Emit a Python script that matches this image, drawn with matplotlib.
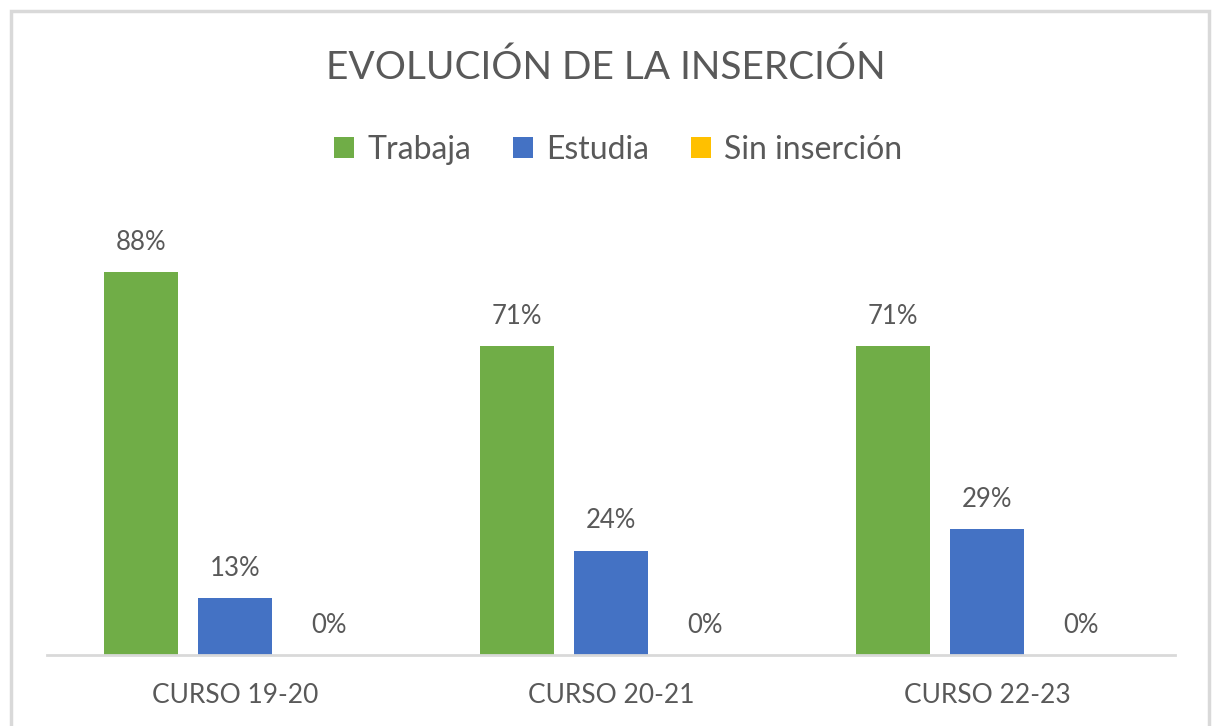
import matplotlib.pyplot as plt
from matplotlib.patches import Patch, Rectangle
import numpy as np

# data
cursos = ['CURSO 19-20', 'CURSO 20-21', 'CURSO 22-23']
series = ['Trabaja', 'Estudia', 'Sin inserción']
trabaja = [88, 71, 71]
estudia = [13, 24, 29]
sin_insercion = [0, 0, 0]

colors = ['#70AD47', '#4472C4', '#FFC000']
text_col = '#595959'
plt.rcParams['font.family'] = ['Lato', 'DejaVu Sans']

W, H = 1212, 726
fig = plt.figure(figsize=(W / 100, H / 100), dpi=100)

# light grey frame around the chart area (bottom edge falls outside the picture)
fig.patches.append(Rectangle((11 / W, -0.05), 1198 / W, (H - 11) / H + 0.05,
                             transform=fig.transFigure, fill=False,
                             edgecolor='#D9D9D9', linewidth=2.5))

ax = fig.add_axes([47 / W, (H - 655) / H, 1128 / W, 435 / H])
x = np.arange(len(cursos))
slot = 0.25
width = 0.197
for j, (name, vals) in enumerate(zip(series, [trabaja, estudia, sin_insercion])):
    pos = x + (j - 1) * slot
    ax.bar(pos, vals, width, color=colors[j], label=name)
    for px, v in zip(pos, vals):
        ax.annotate(f'{v}%', (px, v), xytext=(0, 16), textcoords='offset points',
                    ha='center', va='baseline', fontsize=18.5, color=text_col)

ax.set_xlim(-0.5, 2.5)
ax.set_ylim(0, 100)
ax.set_yticks([])
ax.set_xticks(x)
ax.set_xticklabels(cursos, fontsize=19, color=text_col)
ax.tick_params(axis='x', length=0, pad=20)
for s in ['top', 'right', 'left']:
    ax.spines[s].set_visible(False)
ax.spines['bottom'].set_color('#D9D9D9')
ax.spines['bottom'].set_linewidth(2)

fig.text(0.5, 1 - 68 / H, 'EVOLUCIÓN DE LA INSERCIÓN', ha='center', va='center',
         fontsize=28, color=text_col)

handles = [Patch(facecolor=c, label=s) for c, s in zip(colors, series)]
fig.legend(handles=handles, loc='center', bbox_to_anchor=(618 / W, 1 - 150 / H), ncol=3,
           frameon=False, fontsize=23, labelcolor=text_col, handlelength=0.65,
           handleheight=0.65, handletextpad=0.4, columnspacing=1.3)

fig.savefig('out.png', dpi=100)
